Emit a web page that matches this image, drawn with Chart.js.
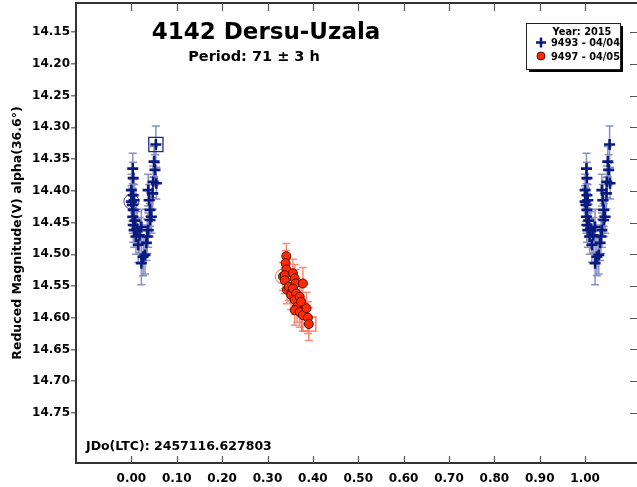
<!DOCTYPE html>
<html>
<head>
<meta charset="utf-8">
<script src="https://cdn.jsdelivr.net/npm/chart.js@4/dist/chart.umd.min.js"></script>
<style>
  body { margin: 0; background: #fff; }
  #wrap { width: 637px; height: 487px; }
</style>
</head>
<body>
<div id="wrap"><canvas id="lc" width="637" height="487"></canvas></div>
<script>
// lightcurve data (phase, reduced mag, error)
var blueX = [0.000, 0.003, 0.004, 0.000, 0.004, 0.006, 0.002, 0.004, 0.003, 0.004, 0.006, 0.008, 0.010, 0.012, 0.015, 0.018, 0.022, 0.026, 0.022, 0.030, 0.033, 0.035, 0.037, 0.041, 0.041, 0.044, 0.039, 0.037, 0.047, 0.048, 0.055, 0.052, 0.050, 0.054];
var blueY = [14.417, 14.365, 14.380, 14.399, 14.407, 14.415, 14.422, 14.430, 14.441, 14.454, 14.462, 14.447, 14.472, 14.460, 14.485, 14.470, 14.457, 14.504, 14.514, 14.501, 14.482, 14.472, 14.462, 14.446, 14.430, 14.441, 14.415, 14.399, 14.404, 14.386, 14.388, 14.367, 14.354, 14.327];
var blueErr = [0.025, 0.024, 0.025, 0.025, 0.025, 0.025, 0.026, 0.026, 0.026, 0.027, 0.027, 0.026, 0.028, 0.027, 0.028, 0.028, 0.028, 0.030, 0.034, 0.030, 0.028, 0.027, 0.027, 0.026, 0.026, 0.026, 0.025, 0.025, 0.025, 0.025, 0.025, 0.024, 0.024, 0.029];

var redX = [0.334, 0.3415, 0.340, 0.3415, 0.338, 0.338, 0.343, 0.347, 0.352, 0.356, 0.360, 0.362, 0.356, 0.363, 0.360, 0.365, 0.360, 0.371, 0.374, 0.378, 0.371, 0.378, 0.386, 0.389, 0.391];
var redY = [14.535, 14.503, 14.514, 14.524, 14.533, 14.541, 14.556, 14.551, 14.564, 14.530, 14.538, 14.546, 14.554, 14.562, 14.572, 14.583, 14.588, 14.567, 14.575, 14.546, 14.591, 14.596, 14.585, 14.600, 14.610];
var redErr = [0.022, 0.020, 0.020, 0.021, 0.021, 0.021, 0.022, 0.022, 0.023, 0.022, 0.022, 0.022, 0.022, 0.023, 0.023, 0.024, 0.024, 0.023, 0.024, 0.025, 0.024, 0.025, 0.025, 0.025, 0.026];

var xTicks = [0.0, 0.1, 0.2, 0.3, 0.4, 0.5, 0.6, 0.7, 0.8, 0.9, 1.0];
var yTicks = [14.15, 14.20, 14.25, 14.30, 14.35, 14.40, 14.45, 14.50, 14.55, 14.60, 14.65, 14.70, 14.75];

var FONT = "'DejaVu Sans', sans-serif";
var NAVY = '#0a1a7e';
var RED = '#ff2a00';

function pts(xs, ys, shift) {
  return xs.map((x, i) => ({ x: x + shift, y: ys[i] }));
}
var lastB = blueX.length - 1, lastR = redX.length - 1;

// error bars + frame decorations
var lcPlugin = {
  id: 'lcPlugin',
  beforeDatasetsDraw(chart) {
    var ctx = chart.ctx, xs = chart.scales.x, ys = chart.scales.y;
    ctx.save();
    chart.data.datasets.forEach(ds => {
      if (!ds.errors) return;
      ds.data.forEach((p, i) => {
        var px = xs.getPixelForValue(p.x);
        var y1 = ys.getPixelForValue(p.y - ds.errors[i]);
        var y2 = ys.getPixelForValue(p.y + ds.errors[i]);
        ctx.strokeStyle = ds.errColor;
        ctx.lineWidth = 1.5;
        ctx.beginPath();
        ctx.moveTo(px, y1); ctx.lineTo(px, y2);
        ctx.moveTo(px - 4, y1); ctx.lineTo(px + 4, y1);
        ctx.moveTo(px - 4, y2); ctx.lineTo(px + 4, y2);
        ctx.stroke();
      });
    });
    ctx.restore();
  },
  afterDraw(chart) {
    var ctx = chart.ctx, a = chart.chartArea, xs = chart.scales.x, ys = chart.scales.y;
    ctx.save();
    // top border
    ctx.strokeStyle = '#333';
    ctx.lineWidth = 2;
    ctx.beginPath();
    ctx.moveTo(a.left, a.top); ctx.lineTo(a.right, a.top);
    ctx.stroke();
    // inward ticks
    ctx.strokeStyle = '#555';
    ctx.lineWidth = 1.2;
    ctx.beginPath();
    xTicks.forEach(v => {
      var px = Math.round(xs.getPixelForValue(v)) + 0.5;
      ctx.moveTo(px, a.bottom); ctx.lineTo(px, a.bottom - 7);
      ctx.moveTo(px, a.top); ctx.lineTo(px, a.top + 8);
    });
    yTicks.forEach(v => {
      var py = Math.round(ys.getPixelForValue(v)) + 0.5;
      ctx.moveTo(a.right, py); ctx.lineTo(a.right - 7, py);
    });
    ctx.stroke();

    // titles
    ctx.fillStyle = '#000';
    ctx.textAlign = 'center';
    ctx.textBaseline = 'alphabetic';
    ctx.font = 'bold 23px ' + FONT;
    ctx.fillText('4142 Dersu-Uzala', 266, 39);
    ctx.font = 'bold 14.5px ' + FONT;
    ctx.fillText('Period: 71 \u00b1 3 h', 254, 61);
    ctx.textAlign = 'left';
    ctx.font = 'bold 12.5px ' + FONT;
    ctx.fillText('JDo(LTC): 2457116.627803', 86, 450);

    // legend box
    var bx = 526, by = 23, bw = 94, bh = 46;
    ctx.fillStyle = '#000';
    ctx.fillRect(bx + 3, by + 3, bw, bh);
    ctx.fillStyle = '#fff';
    ctx.fillRect(bx, by, bw, bh);
    ctx.strokeStyle = '#222';
    ctx.lineWidth = 1;
    ctx.strokeRect(bx + 0.5, by + 0.5, bw, bh);
    ctx.fillStyle = '#000';
    ctx.font = 'bold 9.8px ' + FONT;
    ctx.textAlign = 'center';
    ctx.fillText('Year: 2015', 582, 35);
    ctx.textAlign = 'left';
    var names = chart.data.datasets.filter(d => d.legendText);
    names.forEach((d, i) => {
      var ly = 46 + i * 13.5;
      if (d.pointStyle === 'cross') {
        ctx.strokeStyle = d.borderColor;
        ctx.lineWidth = 2.5;
        ctx.beginPath();
        ctx.moveTo(536, ly - 3.5); ctx.lineTo(546, ly - 3.5);
        ctx.moveTo(541, ly - 8.5); ctx.lineTo(541, ly + 1.5);
        ctx.stroke();
      } else {
        ctx.fillStyle = d.backgroundColor;
        ctx.strokeStyle = d.borderColor;
        ctx.lineWidth = 1;
        ctx.beginPath();
        ctx.arc(541, ly - 3.5, 4, 0, Math.PI * 2);
        ctx.fill(); ctx.stroke();
      }
      ctx.fillStyle = '#000';
      ctx.fillText(d.legendText, 551, ly);
    });
    ctx.restore();
  }
};

new Chart(document.getElementById('lc'), {
  type: 'scatter',
  data: {
    datasets: [
      {
        legendText: '9493 - 04/04',
        data: pts(blueX, blueY, 0), errors: blueErr, errColor: '#8891c2',
        pointStyle: 'cross', pointRadius: 5.5, borderWidth: 2.6,
        borderColor: NAVY, backgroundColor: NAVY
      },
      {
        data: pts(blueX, blueY, 1), errors: blueErr, errColor: '#8891c2',
        pointStyle: 'cross', pointRadius: 5.5, borderWidth: 2.6,
        borderColor: NAVY, backgroundColor: NAVY
      },
      {
        legendText: '9497 - 04/05',
        data: pts(redX, redY, 0), errors: redErr, errColor: '#ff8a74',
        pointStyle: 'circle', pointRadius: 4.5, borderWidth: 1,
        borderColor: '#4a1208', backgroundColor: RED
      },
      // first / last observation markers
      {
        data: [{ x: blueX[0], y: blueY[0] }],
        pointStyle: 'circle', pointRadius: 7.5, borderWidth: 1,
        borderColor: '#3a4696', backgroundColor: 'rgba(0,0,0,0)'
      },
      {
        data: [{ x: blueX[lastB], y: blueY[lastB] }],
        pointStyle: 'rect', pointRadius: 10, borderWidth: 1.3,
        borderColor: '#1a2a86', backgroundColor: 'rgba(0,0,0,0)'
      },
      {
        data: [{ x: redX[0], y: redY[0] }],
        pointStyle: 'circle', pointRadius: 7.5, borderWidth: 1,
        borderColor: '#ff6a50', backgroundColor: 'rgba(0,0,0,0)'
      },
      {
        data: [{ x: redX[lastR], y: redY[lastR] }],
        pointStyle: 'rect', pointRadius: 10, borderWidth: 1.3,
        borderColor: '#ff6a50', backgroundColor: 'rgba(0,0,0,0)'
      }
    ]
  },
  options: {
    responsive: false,
    animation: false,
    layout: { autoPadding: false, padding: { top: 3, right: 0, left: 0, bottom: 0 } },
    plugins: { legend: { display: false }, tooltip: { enabled: false } },
    scales: {
      x: {
        type: 'linear',
        min: -0.1221,
        max: 1.1144,
        afterBuildTicks: s => { s.ticks = xTicks.map(v => ({ value: v })); },
        afterFit: s => { s.height = 24; s.paddingLeft = 0; s.paddingRight = 0; },
        grid: { drawOnChartArea: false, drawTicks: false },
        border: { display: true, color: '#333', width: 2 },
        ticks: {
          padding: 9,
          color: '#000',
          font: { family: FONT, size: 12, weight: 'bold' },
          callback: v => v.toFixed(2)
        }
      },
      y: {
        type: 'linear',
        reverse: true,
        min: 14.104,
        max: 14.829,
        afterBuildTicks: s => { s.ticks = yTicks.map(v => ({ value: v })); },
        afterFit: s => { s.width = 76; s.paddingTop = 0; s.paddingBottom = 0; },
        grid: { drawOnChartArea: false, drawTicks: true, tickLength: 5, color: '#777', lineWidth: 1.5 },
        border: { display: true, color: '#333', width: 2 },
        title: {
          display: true,
          text: 'Reduced Magnitude(V) alpha(36.6\u00b0)',
          color: '#000',
          font: { family: FONT, size: 12.5, weight: 'bold' },
          padding: { top: 10, bottom: 0 }
        },
        ticks: {
          padding: 1,
          color: '#000',
          font: { family: FONT, size: 12, weight: 'bold' },
          callback: v => v.toFixed(2)
        }
      }
    }
  },
  plugins: [lcPlugin]
});
</script>
</body>
</html>
